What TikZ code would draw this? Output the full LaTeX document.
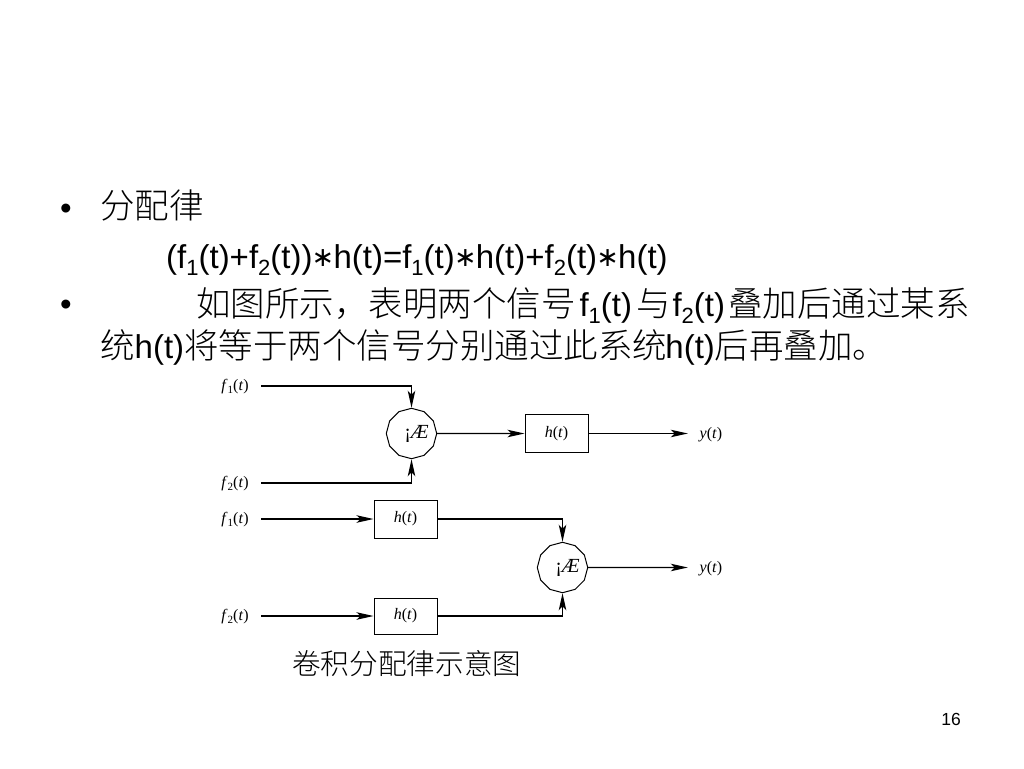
\documentclass[tikz,border=0pt]{standalone}
\usepackage{fontspec}
\setmainfont{Liberation Sans}
\newfontfamily\cjk{Noto Sans CJK SC Light}[Scale=1.045]
\newfontfamily\serifl{Liberation Serif}
\newfontfamily\symfont{DejaVu Sans}
\usetikzlibrary{arrows.meta,shapes.geometric}
\newcommand{\fsig}[1]{\serifl\textit{f}\raisebox{-3pt}{\fontsize{11}{11}\selectfont #1}(\textit{t})}
\newcommand{\hsig}{\serifl\textit{h}(\textit{t})}
\newcommand{\ysig}{\serifl\textit{y}(\textit{t})}
\newcommand{\sumsig}{\hspace*{10pt}\serifl\fontsize{20}{20}\selectfont ¡\textit{Æ}}
\newcommand{\CJ}[1]{{\cjk #1}}
\newcommand{\lsub}[1]{\raisebox{-7pt}{\fontsize{22}{22}\selectfont #1}}
\newcommand{\conv}{\makebox[21pt]{\raisebox{2pt}{\symfont\fontsize{27}{27}\selectfont ∗}}}
\tikzset{
  x=1pt,y=-1pt,
  txt/.style={anchor=base west,inner sep=0pt,font=\fontsize{33}{33}\selectfont},
  sig/.style={inner sep=0pt,minimum width=52pt,font=\fontsize{16}{16}\selectfont},
  outsig/.style={inner sep=0pt,minimum width=46pt,font=\fontsize{16}{16}\selectfont},
  sysbox/.style={draw,line width=1pt,inner sep=0pt,minimum width=63pt,minimum height=38pt,font=\fontsize{16}{16}\selectfont},
  adder/.style={draw,line width=1pt,regular polygon,regular polygon sides=12,shape border rotate=15,minimum size=50pt,inner sep=0pt},
  wire/.style={line width=1.3pt},
  flow/.style={wire,-{Stealth[length=17pt,width=7.5pt,inset=4pt]}},
}
\begin{document}
\begin{tikzpicture}
\useasboundingbox (0,0) rectangle (1024,768);
\node[txt] (b1) at (60,219) {•};
\node[txt] (t1) at (100,218) {\CJ{分配律}};
\node[txt] (t2) at (166,268) {(f\lsub{1}(t)+f\lsub{2}(t))\conv h(t)=f\lsub{1}(t)\conv h(t)+f\lsub{2}(t)\conv h(t)};
\node[txt] (b2) at (60,315) {•};
\node[txt] (t3) at (196,316) {\CJ{如图所示，表明两个信号}\hspace{4pt}f\lsub{1}(t)\hspace{4pt}\CJ{与}\hspace{2pt}f\lsub{2}(t)\hspace{3pt}\CJ{叠加后通过某系}};
\node[txt] (t4) at (100,358) {\CJ{统}h(t)\CJ{将等于两个信号分别通过此系统}\hspace{-1.5pt}h(t)\CJ{后再叠加。}};

\node[sig] (a1) at (235,387) {\fsig{1}};
\node[sig] (a2) at (235,484) {\fsig{2}};
\node[adder] (s1) at (411.5,433.5) {\sumsig};
\node[sysbox] (h1) at (556.5,433.5) {\hsig};
\node[outsig] (y1) at (711,434.5) {\ysig};
\draw[flow] ([yshift=1pt]a1.east) -| (s1.north);
\draw[flow] ([yshift=1pt]a2.east) -| (s1.south);
\draw[flow] (s1.east) -- (h1.west);
\draw[flow] (h1.east) -- ([yshift=1pt]y1.west);

\node[sig] (a3) at (235,520) {\fsig{1}};
\node[sig] (a4) at (235,617) {\fsig{2}};
\node[sysbox] (h2) at (405.5,519) {\hsig};
\node[sysbox,minimum height=36pt] (h3) at (405.5,616) {\hsig};
\node[adder] (s2) at (562.5,567.5) {\sumsig};
\node[outsig] (y2) at (711,568.5) {\ysig};
\draw[flow] ([yshift=1pt]a3.east) -- (h2.west);
\draw[flow] ([yshift=1pt]a4.east) -- (h3.west);
\draw[flow] (h2.east) -| (s2.north);
\draw[flow] (h3.east) -| (s2.south);
\draw[flow] (s2.east) -- ([yshift=1pt]y2.west);

\node[anchor=base west,inner sep=0pt,font=\fontsize{27.4}{27.4}\selectfont] (cap) at (292,674) {\CJ{卷积分配律示意图}};
\node[anchor=base east,inner sep=0pt,font=\fontsize{17.5}{17.5}\selectfont] (pg) at (961,725) {16};
\end{tikzpicture}
\end{document}
